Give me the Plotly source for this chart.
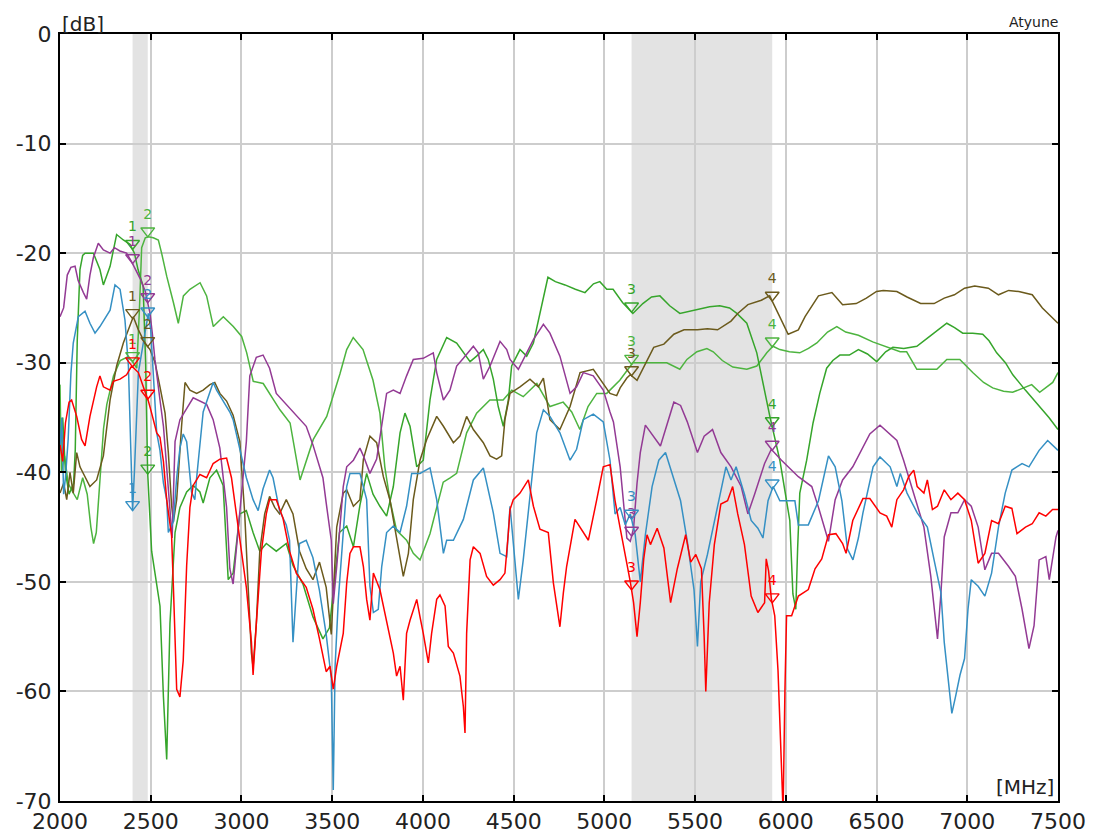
import numpy as np
import plotly.graph_objects as go

# ---------------- data (frequency in MHz, level in dB) ----------------
red_f = [2000, 2015, 2030, 2050, 2064, 2092, 2119, 2138, 2165, 2202, 2220, 2239, 2276, 2294, 2331, 2367, 2395, 2432, 2459, 2487,
         2505, 2533, 2551, 2570, 2588, 2615, 2625, 2643, 2661, 2679, 2698, 2716, 2734, 2771, 2808, 2844, 2881, 2918, 2945, 2973,
         3000, 3027, 3055, 3064, 3082, 3110, 3137, 3155, 3192, 3229, 3265, 3302, 3357, 3394, 3430, 3467, 3488, 3506, 3525, 3561,
         3580, 3598, 3617, 3653, 3672, 3690, 3708, 3727, 3763, 3800, 3837, 3855, 3874, 3892, 3910, 3929, 3966, 3984, 4002, 4030,
         4048, 4076, 4094, 4122, 4140, 4168, 4204, 4223, 4232, 4241, 4260, 4278, 4315, 4351, 4388, 4425, 4452, 4471, 4480, 4498,
         4535, 4581, 4609, 4645, 4691, 4719, 4755, 4774, 4792, 4838, 4884, 4912, 4958, 4994, 5031, 5059, 5087, 5124, 5143, 5161,
         5180, 5198, 5217, 5235, 5254, 5291, 5328, 5365, 5402, 5448, 5476, 5504, 5535, 5550, 5559, 5578, 5606, 5642, 5679, 5707,
         5735, 5772, 5809, 5846, 5883, 5892, 5905, 5920, 5939, 5957, 5976, 5985, 5995, 6004, 6032, 6069, 6124, 6161, 6198, 6235,
         6276, 6313, 6332, 6369, 6425, 6463, 6519, 6556, 6584, 6612, 6649, 6677, 6705, 6724, 6761, 6780, 6808, 6836, 6873, 6910,
         6948, 6985, 7022, 7060, 7097, 7134, 7172, 7209, 7246, 7274, 7321, 7358, 7396, 7433, 7470, 7500]
red_db = [-37.5, -39, -35.5, -33.6, -33.4, -34.9, -37, -37.6, -34.9, -32.2, -31.2, -32.2, -32.5, -31.7, -31.5, -31.1, -30.3, -30.9, -32.2, -33.5,
          -34.6, -36.4, -36.8, -39, -42.5, -45.8, -50.5, -59.8, -60.5, -57.2, -48.5, -43.2, -41.2, -40.2, -40.5, -39.2, -38.8, -38.7, -40.5, -43.8,
          -47.2, -50.5, -55.5, -58.5, -53.8, -47.2, -43.8, -42.5, -42.5, -44.2, -47.2, -49.2, -50.5, -52.5, -55.2, -58.2, -57.7, -59.8, -57.7, -54.7,
          -50.1, -47.4, -46.8, -46.8, -48.6, -51.6, -53.5, -49.2, -50.7, -53.5, -56.5, -58.6, -57.7, -60.8, -54.7, -53.5, -51.6, -53.2, -54.7, -57.4,
          -54.7, -51.6, -51.2, -52.2, -55.9, -56.5, -58.6, -61.4, -63.8, -54.7, -48, -46.8, -47.4, -49.5, -50.3, -49.8, -49.2, -45.5, -43.4, -42.5,
          -41.9, -40.7, -43.1, -45.2, -45.5, -50.1, -54.1, -51, -48.6, -44.3, -45.5, -46.2, -42.5, -39.5, -39.3, -42.6, -45.1, -48.2, -50, -51.9,
          -55, -51.9, -47.9, -45.7, -46.6, -45.1, -46.9, -51.9, -48.8, -45.7, -48.2, -47.5, -48.8, -55, -60, -51.9, -46.6, -42.9, -42.6, -41.3,
          -43.8, -46.6, -51.3, -52.8, -51.9, -47.9, -49, -51.5, -53.1, -58.1, -68.4, -71, -60, -53.1, -53.1, -51.3, -50.7, -48.8, -47.9, -45.7,
          -45.6, -46.5, -47.4, -44.4, -42.4, -42.4, -43.7, -44, -45, -42.5, -41.6, -40.4, -39.8, -41.3, -41.9, -40.7, -43.4, -43.1, -41.6, -42.5,
          -41.9, -42.5, -44.4, -48.3, -47.4, -44.4, -44.7, -43.1, -43.3, -45.6, -45, -44.7, -43.7, -44, -43.4, -43.4]

blue_f = [2000, 2010, 2020, 2030, 2045, 2060, 2073, 2101, 2138, 2165, 2193, 2220, 2276, 2303, 2331, 2358, 2377, 2390, 2400, 2410,
          2432, 2468, 2487, 2500, 2514, 2533, 2551, 2570, 2588, 2597, 2625, 2643, 2661, 2679, 2698, 2725, 2743, 2753, 2789, 2826,
          2844, 2863, 2899, 2936, 2954, 2982, 3027, 3064, 3092, 3119, 3155, 3174, 3210, 3247, 3265, 3284, 3302, 3320, 3357, 3394,
          3430, 3467, 3495, 3506, 3516, 3534, 3561, 3580, 3598, 3653, 3690, 3708, 3727, 3754, 3773, 3800, 3837, 3874, 3910, 3938,
          3984, 4039, 4076, 4113, 4131, 4168, 4223, 4278, 4333, 4388, 4425, 4462, 4480, 4507, 4526, 4553, 4590, 4627, 4664, 4700,
          4755, 4811, 4847, 4884, 4939, 4994, 5031, 5059, 5087, 5115, 5143, 5170, 5198, 5226, 5263, 5300, 5337, 5383, 5420, 5457,
          5494, 5513, 5531, 5568, 5624, 5670, 5698, 5726, 5772, 5809, 5846, 5874, 5902, 5930, 5967, 6013, 6050, 6069, 6124, 6180,
          6235, 6272, 6309, 6340, 6370, 6400, 6425, 6481, 6519, 6575, 6612, 6631, 6668, 6724, 6780, 6817, 6855, 6873, 6895, 6915,
          6935, 6960, 6985, 7004, 7022, 7060, 7097, 7134, 7172, 7209, 7246, 7302, 7340, 7396, 7443, 7500]
blue_db = [-38, -35, -42, -40.5, -37, -31, -28.2, -25.8, -25.3, -26.4, -27.3, -26.7, -25.2, -22.9, -23.3, -26.1, -30.3, -38, -43.5, -40,
           -30.9, -27.3, -25.5, -27, -31.5, -36.4, -38, -41, -42.5, -45.5, -44.5, -40.5, -37.8, -36.5, -37.2, -41.8, -42.5, -40.5, -34.5, -32.8,
           -31.8, -32.5, -33.5, -34.5, -35.2, -37.2, -40.5, -42.5, -43.5, -41.5, -39.8, -40.5, -43.5, -44.8, -46.2, -55.5, -50.5, -46.5, -46.2, -47.8,
           -50.8, -54.8, -58.8, -69, -57.7, -51.6, -45.5, -41.3, -40.1, -40.1, -42.5, -50.4, -52.8, -52.5, -48.6, -45.5, -44.9, -45.5, -43.1, -40.1,
           -40.1, -39.6, -42.5, -47.4, -46.2, -46.2, -44.3, -40.7, -39.6, -43.7, -47.4, -47.7, -43.1, -48, -51.6, -48, -41.9, -36.4, -34.3, -34.9,
           -36.4, -38.9, -37.9, -35.2, -34.7, -35.4, -38.9, -43.8, -43.2, -44.8, -43.8, -45.7, -50, -45.7, -41.3, -38.9, -38.2, -40.7, -42.6, -46.3,
           -50.7, -55.9, -50, -47.5, -43.2, -39.5, -40.7, -39.5, -42, -44.4, -45.1, -46, -42.6, -41.3, -42.6, -42.6, -42.6, -44.8, -44.8, -42.6,
           -38.5, -39.5, -42.6, -47, -48, -46, -43.7, -39.5, -38.6, -39.5, -41.3, -40.1, -41.9, -43.7, -45, -48, -51, -55.5, -59, -62,
           -60.5, -58.5, -57, -52.5, -49.8, -50.4, -51.3, -49.2, -45, -41.9, -39.8, -39.2, -39.5, -38, -37.1, -38]

purple_f = [2000, 2020, 2040, 2060, 2083, 2100, 2129, 2147, 2165, 2184, 2211, 2239, 2276, 2300, 2330, 2367, 2395, 2441, 2470, 2487,
            2496, 2510, 2523, 2551, 2570, 2590, 2606, 2618, 2634, 2661, 2734, 2808, 2844, 2881, 2918, 2936, 2954, 2991, 3027, 3046,
            3082, 3119, 3155, 3192, 3247, 3302, 3357, 3394, 3449, 3467, 3495, 3506, 3525, 3561, 3580, 3617, 3653, 3672, 3708, 3745,
            3782, 3800, 3837, 3874, 3910, 3947, 4002, 4057, 4076, 4113, 4149, 4186, 4223, 4278, 4305, 4333, 4370, 4406, 4425, 4462,
            4480, 4526, 4553, 4609, 4664, 4700, 4755, 4811, 4847, 4884, 4939, 4994, 5031, 5050, 5087, 5106, 5124, 5143, 5161, 5180,
            5198, 5226, 5309, 5383, 5420, 5457, 5513, 5550, 5596, 5642, 5698, 5754, 5791, 5828, 5883, 5920, 5976, 6069, 6143, 6180,
            6235, 6272, 6313, 6369, 6425, 6463, 6519, 6612, 6649, 6705, 6761, 6799, 6827, 6836, 6855, 6873, 6910, 6948, 6985, 7022,
            7060, 7097, 7134, 7172, 7228, 7265, 7302, 7340, 7368, 7396, 7433, 7452, 7489, 7500]
purple_db = [-25.8, -25, -22, -21.3, -21.2, -22.5, -23.6, -24.2, -22, -20.4, -19.1, -19.7, -20, -19.5, -19.8, -20, -20.8, -22.3, -23.5, -24.8,
             -25.5, -27.5, -29.7, -33.4, -35.8, -40, -43.5, -46, -37.2, -35.2, -33.2, -33.8, -35.2, -37.8, -43.2, -48.8, -50.2, -43.8, -37.2, -31.2,
             -29.5, -29.3, -30.5, -32.8, -33.8, -34.8, -35.8, -37.5, -40.5, -42.8, -46.2, -52, -48.6, -41.3, -39.5, -38.9, -37.8, -38.5, -40.1, -38.8,
             -34.9, -32.8, -32.5, -32.8, -31.2, -29.7, -29.6, -29.1, -30.9, -33.4, -32.5, -30.3, -29.6, -28.5, -29.1, -31.5, -30.3, -28.8, -28.05, -28.8,
             -29.7, -30.6, -29.7, -27.9, -26.5, -27.3, -29.4, -32.8, -32.2, -30.9, -31.2, -32.5, -34.5, -35.4, -39.5, -43.2, -46, -46.3, -45.1, -41,
             -38.2, -35.7, -37.6, -33.6, -33.9, -35.4, -38.2, -36.7, -36.1, -38.2, -39.5, -41.3, -43.8, -42, -39.2, -37.9, -38.9, -40.4, -41.3, -43.2,
             -46.3, -42.5, -40.7, -39.5, -37.7, -36.5, -35.7, -37.1, -38.9, -41.9, -45, -49.5, -54, -55.2, -51, -45.9, -43.7, -43.7, -42.5, -43.1,
             -45, -48.9, -47.4, -47.4, -48.6, -49.5, -52.5, -56.1, -54, -48, -47.7, -49.8, -45.9, -45.3]

olive_f = [2000, 2020, 2037, 2055, 2073, 2092, 2110, 2129, 2165, 2202, 2239, 2276, 2312, 2349, 2377, 2404, 2432, 2468, 2496, 2524,
           2551, 2579, 2597, 2615, 2625, 2643, 2670, 2689, 2716, 2753, 2789, 2826, 2853, 2881, 2918, 2954, 2991, 3018, 3037, 3055,
           3064, 3082, 3101, 3128, 3155, 3183, 3210, 3247, 3284, 3320, 3357, 3394, 3430, 3467, 3495, 3510, 3525, 3561, 3580, 3617,
           3653, 3672, 3708, 3745, 3782, 3818, 3855, 3892, 3920, 3947, 3984, 4021, 4076, 4113, 4168, 4204, 4241, 4278, 4333, 4370,
           4406, 4434, 4452, 4480, 4535, 4590, 4636, 4664, 4700, 4755, 4811, 4866, 4939, 4994, 5031, 5068, 5087, 5124, 5143, 5180,
           5235, 5272, 5328, 5383, 5439, 5513, 5568, 5624, 5698, 5735, 5791, 5865, 5911, 5957, 6013, 6069, 6106, 6180, 6254, 6313,
           6388, 6444, 6500, 6537, 6612, 6668, 6743, 6817, 6873, 6929, 6985, 7041, 7116, 7172, 7228, 7284, 7358, 7414, 7470, 7500]
olive_db = [-41.9, -41, -42.5, -40, -41.9, -38.2, -39.5, -40.1, -41.3, -40.7, -38.5, -33.4, -30.3, -28.2, -27, -25.8, -27, -28.2, -28.8, -30,
            -32.2, -34.6, -38.2, -43, -44.5, -42.5, -35.8, -31.8, -32.5, -32.8, -32.5, -32, -31.8, -32.8, -33.5, -34.8, -37.2, -43.8, -50.5, -56.5,
            -57.8, -53.8, -47.2, -43.8, -42.2, -43.2, -43.8, -42.5, -43.8, -47.2, -48.8, -49.8, -48.2, -50.5, -54.8, -50, -45, -41.9, -41.6, -43.1,
            -42.5, -38.8, -36.7, -37.3, -40.4, -42.5, -46.2, -49.5, -47.4, -42.5, -38.9, -37, -34.9, -35.8, -37.3, -36.7, -34.9, -36.1, -37.3, -38.5,
            -38.8, -38.5, -35.2, -32.8, -32.2, -31.5, -32.2, -31.4, -35.2, -36.1, -34, -30.9, -30.6, -31.9, -32.8, -33, -32.3, -31.4, -31.1, -31.6,
            -29.8, -28.6, -28.3, -27.4, -27, -27, -26.9, -27, -26.2, -25.5, -24.7, -24.3, -23.9, -25.5, -27.4, -27, -25.8, -23.9, -23.6, -24.7,
            -24.6, -24.1, -23.5, -23.4, -23.5, -24, -24.6, -24.6, -24.1, -23.8, -23.2, -23, -23.2, -23.8, -23.4, -23.5, -23.8, -25, -25.9, -26.4]

green1_f = [2000, 2015, 2030, 2050, 2075, 2084, 2095, 2110, 2125, 2138, 2184, 2220, 2239, 2276, 2312, 2349, 2386, 2410, 2430, 2458,
            2472, 2483, 2505, 2533, 2551, 2570, 2588, 2606, 2634, 2661, 2698, 2734, 2771, 2789, 2826, 2863, 2899, 2927, 2954, 2991,
            3027, 3064, 3101, 3137, 3192, 3247, 3284, 3339, 3394, 3449, 3485, 3513, 3540, 3580, 3617, 3653, 3690, 3725, 3763, 3800,
            3837, 3874, 3901, 3929, 3966, 4002, 4039, 4076, 4131, 4186, 4223, 4260, 4296, 4333, 4360, 4388, 4415, 4443, 4471, 4489,
            4535, 4572, 4609, 4636, 4664, 4689, 4730, 4783, 4840, 4893, 4940, 4975, 5013, 5048, 5100, 5157, 5212, 5260, 5306, 5360,
            5416, 5470, 5526, 5580, 5636, 5690, 5730, 5785, 5840, 5873, 5912, 5967, 6022, 6039, 6055, 6065, 6077, 6115, 6150, 6187,
            6225, 6259, 6298, 6350, 6400, 6450, 6501, 6550, 6590, 6650, 6722, 6800, 6887, 6930, 6975, 7030, 7085, 7120, 7162, 7210,
            7251, 7320, 7400, 7450, 7500]
green1_db = [-38, -35, -40, -42, -41, -38, -28, -21.5, -20.2, -20, -20, -21.5, -22.9, -21.2, -18.3, -18.8, -19.2, -20, -21.5, -23,
             -30, -40, -47.2, -50.5, -52.2, -60.5, -66.2, -53.8, -45.5, -43.2, -41.8, -41.2, -41.8, -42.8, -40.5, -39.8, -41.2, -49.8, -49.2, -43.8,
             -43.5, -45.5, -47.2, -46.5, -47.2, -46.5, -48.5, -50.2, -53.2, -55.2, -54.2, -49.8, -45.5, -44.9, -46.8, -43, -40.1, -42, -43.1, -44,
             -41.3, -36.4, -34.6, -35.8, -39.5, -38.9, -33.4, -29.7, -27.7, -28.2, -29.1, -29.9, -29.4, -28.8, -29.7, -31.5, -34, -35.8, -33.4, -30.3,
             -28.8, -29.4, -28.2, -26.1, -24.2, -22.2, -22.6, -22.9, -23.3, -23.6, -22.8, -22.6, -23.3, -23.3, -24.5, -25.5, -24.6, -24, -23.9, -24.8,
             -25.5, -25.3, -25.1, -24.9, -24.8, -25, -25.5, -26.4, -29.1, -31.9, -34.9, -38.9, -44.4, -51.1, -52.5, -47, -41.9, -38.9, -35.5, -32.8,
             -30.5, -29.8, -29.3, -29.3, -28.8, -29.2, -29.9, -29, -28.6, -28.7, -28.5, -27.5, -26.4, -26.8, -27.3, -27.3, -27.4, -28, -29.1, -30,
             -31.1, -32.5, -34, -35, -36.1]

green2_f = [2000, 2008, 2025, 2045, 2070, 2095, 2125, 2150, 2170, 2185, 2200, 2222, 2240, 2258, 2295, 2332, 2368, 2396, 2423, 2438,
            2450, 2470, 2487, 2514, 2542, 2560, 2588, 2625, 2652, 2680, 2716, 2772, 2808, 2845, 2900, 2955, 3001, 3029, 3065, 3120,
            3176, 3212, 3268, 3323, 3396, 3470, 3543, 3580, 3616, 3670, 3725, 3763, 3790, 3818, 3855, 3910, 3947, 3984, 4039, 4112,
            4150, 4186, 4241, 4296, 4369, 4442, 4490, 4553, 4628, 4700, 4773, 4820, 4865, 4910, 4958, 5013, 5085, 5157, 5212, 5280,
            5344, 5416, 5455, 5510, 5565, 5600, 5650, 5708, 5785, 5840, 5895, 5929, 5967, 6020, 6077, 6125, 6171, 6230, 6281, 6330,
            6400, 6479, 6560, 6630, 6666, 6722, 6790, 6832, 6887, 6959, 7030, 7090, 7140, 7200, 7250, 7355, 7399, 7440, 7471, 7500]
green2_db = [-32, -40, -38.5, -41, -41.8, -42.5, -40.5, -42, -45, -46.5, -45.5, -40.5, -36, -33.8, -31.2, -29.8, -29.5, -29.8, -30.5, -25,
             -19.5, -18.6, -18.5, -18.6, -18.8, -20, -22.1, -24.5, -26.4, -23.9, -23.3, -22.7, -23.9, -26.7, -25.8, -26.7, -27.6, -29.1, -31.7, -31.9,
             -33.4, -34.3, -35.5, -40.7, -37, -34.9, -31, -28.8, -27.7, -28.8, -31.6, -34.6, -39.5, -42.5, -45.3, -46.2, -47.4, -48, -45.6, -40.9,
             -40.5, -40.1, -36.4, -34.6, -33.4, -33.4, -32.5, -33.1, -31.9, -34, -33.6, -34.5, -36.1, -34, -32.8, -32.8, -31.6, -30, -30, -30,
             -30, -30.6, -29.7, -29, -28.7, -29, -29.8, -30.4, -30.6, -30.3, -29.1, -28.5, -28.8, -29, -29.1, -28.7, -28.2, -27.2, -26.7, -27.2,
             -27.5, -28.1, -28.6, -29, -29, -30.6, -30.6, -30.6, -29.7, -29.7, -30.9, -31.8, -32.3, -32.6, -32.7, -32, -32.7, -32.2, -31.8, -30.9]

marker_freqs = [2400, 2483.5, 5150, 5925]
marker_labels = ["1", "2", "3", "4"]
band_ranges = [(2400, 2483.5), (5150, 5925)]

x_ticks = [2000, 2500, 3000, 3500, 4000, 4500, 5000, 5500, 6000, 6500, 7000, 7500]
x_tick_labels = ["2000", "2500", "3000", "3500", "4000", "4500", "5000", "5500", "6000", "6500", "7000", "7500"]
y_ticks = [-70, -60, -50, -40, -30, -20, -10, 0]
y_tick_labels = ["-70", "-60", "-50", "-40", "-30", "-20", "-10", "0"]

# ---------------- style ----------------
series = [
    ("green2", green2_f, green2_db, "#4db43f"),
    ("green1", green1_f, green1_db, "#36a52b"),
    ("olive", olive_f, olive_db, "#6b5a1c"),
    ("purple", purple_f, purple_db, "#933a94"),
    ("blue", blue_f, blue_db, "#3590c4"),
    ("red", red_f, red_db, "#ff0000"),
]

W, H = 1095, 836
ML, MR, MT, MB = 60, 37, 34, 35
plot_h = H - MT - MB
MARKER_SIZE = 12
px_per_db = plot_h / 70.0
marker_shift_db = (MARKER_SIZE / 2) / px_per_db

FONT = "DejaVu Sans"
TEXT_COLOR = "#222222"

fig = go.Figure()

for name, f, v, col in series:
    fig.add_trace(go.Scatter(x=f, y=v, mode="lines", name=name,
                             line=dict(color=col, width=1.5), hoverinfo="skip"))

for name, f, v, col in series:
    ym = np.interp(marker_freqs, f, v) + marker_shift_db
    fig.add_trace(go.Scatter(
        x=marker_freqs, y=ym, mode="markers+text", text=marker_labels,
        textposition="top center", textfont=dict(family=FONT, size=14, color=col),
        marker=dict(symbol="triangle-down-open", size=MARKER_SIZE, color=col, line=dict(color=col, width=1.4)),
        cliponaxis=False, hoverinfo="skip"))

for x0, x1 in band_ranges:
    fig.add_shape(type="rect", xref="x", yref="paper", x0=x0, x1=x1, y0=0, y1=1,
                  fillcolor="#e3e3e3", line=dict(width=0), layer="below")

axis_common = dict(showgrid=True, gridcolor="#cdcdcd", gridwidth=1.5,
                   showline=True, linecolor="black", linewidth=2, mirror="ticks",
                   ticks="inside", ticklen=6, tickwidth=2, tickcolor="black",
                   zeroline=False, automargin=False,
                   tickfont=dict(family=FONT, size=22, color=TEXT_COLOR))

fig.update_xaxes(range=[2000, 7500], tickmode="array", tickvals=x_ticks, ticktext=x_tick_labels, **axis_common)
fig.update_yaxes(range=[-70, 0], tickmode="array", tickvals=y_ticks, ticktext=y_tick_labels, ticklabelstandoff=2, **axis_common)

fig.add_annotation(text="[dB]", xref="paper", yref="paper", x=0.0, y=1.0, xanchor="left", yanchor="bottom",
                   showarrow=False, font=dict(family=FONT, size=20, color=TEXT_COLOR), xshift=0, yshift=-4)
fig.add_annotation(text="[MHz]", xref="paper", yref="paper", x=1.0, y=0.0, xanchor="right", yanchor="bottom",
                   showarrow=False, font=dict(family=FONT, size=20, color=TEXT_COLOR), xshift=-2, yshift=0)
fig.add_annotation(text="Atyune", xref="paper", yref="paper", x=1.0, y=1.0, xanchor="right", yanchor="bottom",
                   showarrow=False, font=dict(family=FONT, size=14, color=TEXT_COLOR), xshift=2, yshift=2)

fig.update_layout(width=W, height=H, margin=dict(l=ML, r=MR, t=MT, b=MB),
                  plot_bgcolor="white", paper_bgcolor="white", showlegend=False)

fig.write_html("out.html")
